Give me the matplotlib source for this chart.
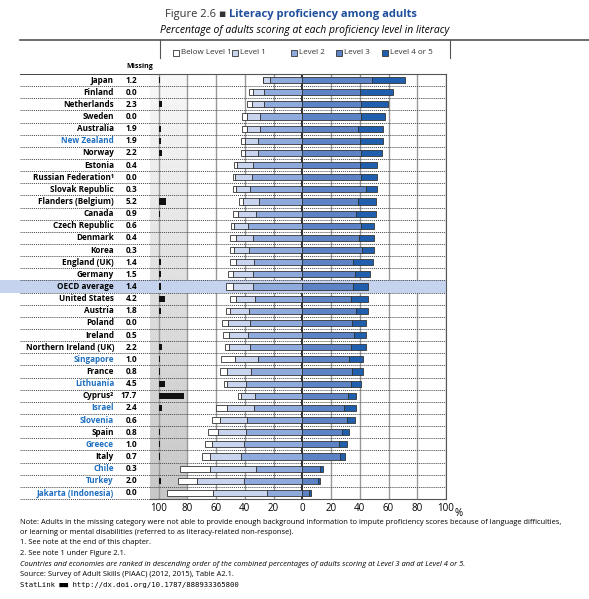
import matplotlib
matplotlib.use("Agg")
import matplotlib.pyplot as plt
import numpy as np
from matplotlib.patches import Rectangle

plt.rcParams['font.family'] = ['Open Sans', 'DejaVu Sans']

countries = ["Japan","Finland","Netherlands","Sweden","Australia","New Zealand","Norway","Estonia",
 "Russian Federation¹","Slovak Republic","Flanders (Belgium)","Canada","Czech Republic","Denmark","Korea",
 "England (UK)","Germany","OECD average","United States","Austria","Poland","Ireland","Northern Ireland (UK)",
 "Singapore","France","Lithuania","Cyprus²","Israel","Slovenia","Spain","Greece","Italy","Chile","Turkey",
 "Jakarta (Indonesia)"]
blue_names = {"New Zealand","Singapore","Lithuania","Israel","Slovenia","Greece","Chile","Turkey","Jakarta (Indonesia)"}
missing = [1.2,0.0,2.3,0.0,1.9,1.9,2.2,0.4,0.0,0.3,5.2,0.9,0.6,0.4,0.3,1.4,1.5,1.4,4.2,1.8,0.0,0.5,2.2,
           1.0,0.8,4.5,17.7,2.4,0.6,0.8,1.0,0.7,0.3,2.0,0.0]
below1 = [0.6,2.8,3.0,3.5,3.0,2.6,2.6,2.3,1.6,2.1,3.0,4.0,2.1,4.0,2.8,3.7,3.7,4.7,4.2,2.8,4.2,4.4,3.0,
          10.0,5.3,2.3,2.1,7.9,5.8,7.2,4.9,5.8,20.7,12.8,32.3]
level1 = [4.3,8.1,8.8,9.5,9.5,9.1,9.5,11.2,11.4,9.8,11.2,12.6,10.0,12.1,10.7,13.0,14.2,14.4,13.3,12.8,14.9,13.3,14.7,
          16.0,16.3,13.0,10.0,19.1,18.6,19.5,21.9,21.6,32.4,33.0,37.2]
level2 = [22.8,26.5,26.5,29.3,29.3,30.7,30.5,34.2,35.1,36.3,29.8,31.9,37.7,34.0,37.0,33.3,34.0,34.0,32.8,37.2,36.5,37.7,36.3,
          30.7,36.0,39.5,33.0,33.3,38.4,39.1,40.9,42.6,31.9,40.5,24.9]
level3 = [48.6,40.2,40.9,40.9,39.1,40.2,40.9,40.2,40.9,44.2,38.6,37.2,40.9,39.8,41.4,35.6,36.5,35.1,34.0,37.2,34.9,35.8,34.2,
          32.3,34.9,34.2,31.9,29.3,31.4,27.9,25.6,26.3,12.6,11.2,4.9]
level45 = [22.7,22.6,18.6,16.7,17.2,15.8,14.4,12.1,11.2,7.9,12.8,14.2,9.3,10.2,8.4,13.5,10.5,10.9,11.6,8.4,9.5,8.6,9.8,
           9.8,7.4,6.5,5.3,7.9,5.1,4.7,5.6,3.3,1.9,0.9,0.9]
legend_labels = ["Below Level 1","Level 1","Level 2","Level 3","Level 4 or 5"]
colors = ["white","#c9d5ee","#8faadc","#5b83c6","#1f5fad"]
tick_vals = [-100,-80,-60,-40,-20,0,20,40,60,80,100]
tick_labels = ["100","80","60","40","20","0","20","40","60","80","100"]

fig = plt.figure(figsize=(5.89,5.99), dpi=100)
ax = fig.add_axes([150/589, 1-499/599, 296/589, 425/599])
n = len(countries)
y = np.arange(n)
ax.set_ylim(n-0.5, -0.5)
ax.set_xlim(-106, 100)

grad = np.linspace(0.97, 0.78, 200).reshape(-1, 1)
ax.imshow(grad, extent=[-106, -80, n-0.5, -0.5], cmap='gray', vmin=0, vmax=1, aspect='auto', zorder=0)
for v in tick_vals:
    ax.axvline(v, color='#222' if v == 0 else '#999', lw=1.3 if v == 0 else 1.0, zorder=1)
oi = countries.index("OECD average")
ax.add_patch(Rectangle((-106, oi-0.5), 206, 1, color="#c5d3ee", zorder=1.5, lw=0))
for i in range(n-1):
    ax.axhline(i+0.5, color='#444', lw=0.7, ls=(0, (1, 1)), zorder=1.6)

b1 = np.array(below1); l1 = np.array(level1); l2 = np.array(level2)
l3 = np.array(level3); l4 = np.array(level45)
h = 0.5
kw = dict(height=h, edgecolor='#333', linewidth=0.6, zorder=3)
ax.barh(y, -l2, left=0, color=colors[2], **kw)
ax.barh(y, -l1, left=-l2, color=colors[1], **kw)
ax.barh(y, -b1, left=-l2-l1, color=colors[0], **kw)
ax.barh(y, l3, left=0, color=colors[3], **kw)
ax.barh(y, l4, left=l3, color=colors[4], **kw)
ax.barh(y, missing, left=-100, color='#111', height=0.5, zorder=3, lw=0)
ax.barh(y, [0.5]*n, left=-100, color='#111', height=0.5, zorder=3, lw=0)

ax.set_yticks([])
ax.set_xticks(tick_vals)
ax.set_xticklabels(tick_labels, fontsize=7)
ax.tick_params(axis='x', length=0, pad=3)
ax.text(1.03, -0.02, "%", transform=ax.transAxes, fontsize=7, va='top')
for s in ax.spines.values():
    s.set_color('#555'); s.set_linewidth(0.8)
ax.spines['left'].set_visible(False)

rh = 425/n/599
fig.add_artist(Rectangle((0.0, 1-74/599-(oi+1)*rh), 150/589, rh, color="#c5d3ee", lw=0, zorder=0))
for i, (c, m) in enumerate(zip(countries, missing)):
    col = '#1f6fc0' if c in blue_names else 'black'
    yy = 1 - (74 + (i+0.5)*425/n)/599
    fig.text(114/589, yy, c, ha='right', va='center', fontsize=5.9, fontweight='bold', color=col)
    fig.text(137/589, yy, f"{m:.1f}", ha='right', va='center', fontsize=5.9, fontweight='bold')
    fig.add_artist(plt.Line2D([20/589, 150/589], [yy - 0.5*rh]*2, color='#444', lw=0.7, ls=(0, (1, 1))))
fig.add_artist(plt.Line2D([20/589, 150/589], [1-74/599]*2, color='#444', lw=0.7))
fig.text(140/589, 1-67/599, "Missing", ha='center', va='center', fontsize=5, fontweight='bold')

fig.text(229/589, 1-15/599, "Figure 2.6 ▪ ", ha='right', va='center', fontsize=8, color='#333')
fig.text(229/589, 1-15/599, "Literacy proficiency among adults", ha='left', va='center', fontsize=8, color='#1f4e9c', fontweight='bold')
fig.text(305/589, 1-31/599, "Percentage of adults scoring at each proficiency level in literacy", ha='center', va='center',
         fontsize=7.5, style='italic')
fig.add_artist(plt.Line2D([20/589, 589/589], [1-40/599]*2, color='#555', lw=1.2))
fig.add_artist(plt.Line2D([160/589, 160/589], [1-40/599, 1-58/599], color='#555', lw=0.8))
fig.add_artist(plt.Line2D([450/589, 450/589], [1-40/599, 1-58/599], color='#555', lw=0.8))
xs = [173, 232, 291, 336, 382]
for x0, lab, c in zip(xs, legend_labels, colors):
    fig.add_artist(Rectangle((x0/589, 1-56/599), 6/589, 6/599, facecolor=c, edgecolor='#333', lw=0.6))
    fig.text((x0+8)/589, 1-53/599, lab, fontsize=5.8, va='center', color='#333')

notes = [("Note: ", "Adults in the missing category were not able to provide enough background information to impute proficiency scores because of language difficulties,", 'normal'),
         ("", "or learning or mental disabilities (referred to as literacy-related non-response).", 'normal'),
         ("", "1. See note at the end of this chapter.", 'normal'),
         ("", "2. See note 1 under Figure 2.1.", 'normal'),
         ("", "Countries and economies are ranked in descending order of the combined percentages of adults scoring at Level 3 and at Level 4 or 5.", 'italic'),
         ("Source: ", "Survey of Adult Skills (PIAAC) (2012, 2015), Table A2.1.", 'normal')]
yv = 522
for bold, txt, st in notes:
    fig.text(20/589, 1-yv/599, (bold + txt), fontsize=5.4, va='center', style=st)
    yv += 10.5
fig.text(20/589, 1-yv/599, "StatLink ■■ http://dx.doi.org/10.1787/888933365800", fontsize=5.2, va='center', family='DejaVu Sans Mono')
fig.savefig("out.png", dpi=100)
